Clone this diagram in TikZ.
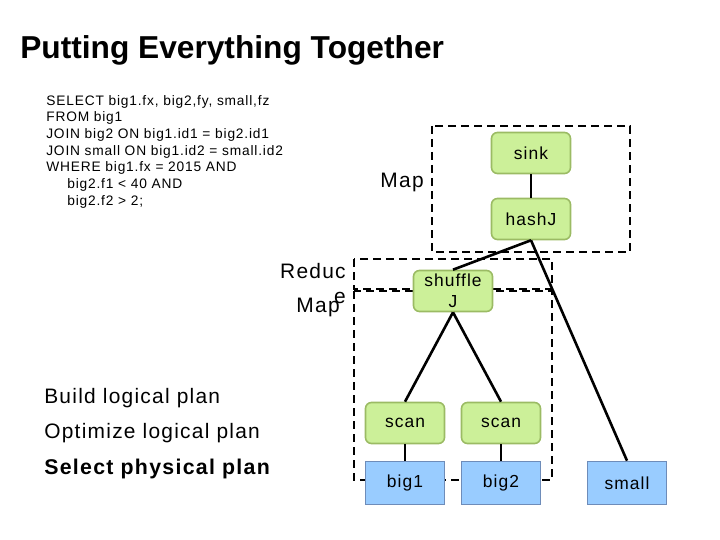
\documentclass[tikz,border=0pt]{standalone}
\usepackage{fontspec}
\setmainfont{Liberation Sans}
\newfontfamily\wide[LetterSpace=6]{Liberation Sans}
\usepackage{tikz}
\usetikzlibrary{arrows}

\definecolor{opfill}{RGB}{204,240,153}
\definecolor{opline}{RGB}{155,187,100}
\definecolor{tabfill}{RGB}{153,204,255}
\definecolor{tabline}{RGB}{110,140,185}

\begin{document}
\begin{tikzpicture}[x=1bp, y=-1bp, semithick,
		op/.style={draw=opline, fill=opfill, line width=1.6bp, rounded corners=6bp,
			minimum width=79bp, minimum height=41bp, inner sep=0bp, align=center,
			font=\wide\fontsize{17.5}{21}\selectfont},
		tab/.style={draw=tabline, fill=tabfill, line width=1.6bp,
			minimum width=79bp, minimum height=43bp, inner sep=1bp,
			font=\wide\fontsize{17.5}{21}\selectfont},
		stage/.style={draw, line width=2.6bp, dash pattern=on 8bp off 5bp},
		tree/.style={line width=2.6bp},
		lbl/.style={inner sep=0pt, font=\wide\fontsize{21}{21}\selectfont}]
		\useasboundingbox (0, 0) rectangle (720, 540);

		% headline and query
		\node[anchor=west, inner sep=0pt, font=\bfseries\fontsize{31.8}{33}\selectfont] (title) at (20, 50) {Putting Everything Together};
		\node[anchor=north west, inner sep=0pt, align=left, font=\wide\fontsize{13.8}{16.7}\selectfont] (query) at (46, 95) {SELECT big1.fx, big2,fy, small,fz\\
			FROM big1\\
			JOIN big2 ON big1.id1 = big2.id1\\
			JOIN small ON big1.id2 = small.id2\\
			WHERE big1.fx = 2015 AND\\
			\hspace*{21bp}big2.f1 < 40 AND\\
			\hspace*{21bp}big2.f2 > 2;};

		% steps
		\node[lbl, anchor=west] (build) at (44, 398) {Build logical plan};
		\node[lbl, anchor=west] (optimize) at (44, 433) {Optimize logical plan};
		\node[lbl, anchor=west, font=\wide\bfseries\fontsize{21.4}{21}\selectfont] (select) at (44, 469) {Select physical plan};

		% stage boxes
		\draw[stage] (432, 126) rectangle (630, 252);
		\draw[stage] (354, 259) rectangle (552, 289);
		\draw[stage] (354, 291) -- (354, 480) -- (552, 480) -- (552, 291) -- cycle;
		\node[lbl, anchor=east] (mapA) at (424, 182) {Map};
		\node[lbl, anchor=east] (reduc) at (346, 271) {Reduc};
		\node[lbl, anchor=east] (mapB) at (340, 307) {Map};
		\node[lbl] (e) at (340, 298) {e};

		% operators
		\node[op] (sink) at (531, 153) {sink};
		\node[op] (hashJ) at (531, 219) {hashJ};
		\node[op] (shuffle) at (453, 291) {shuffle\\J};
		\node[op] (scan1) at (405, 423) {scan};
		\node[op] (scan2) at (501, 423) {scan};
		\node[tab] (big1) at (405, 483) {big1};
		\node[tab] (big2) at (501, 483) {big2};
		\node[tab] (small) at (627, 483) {small};

		\path[tree] (sink) edge (hashJ)
			(hashJ.south) edge (shuffle.north)
			(hashJ.south) edge (small.north)
			(shuffle.south) edge (scan1.north)
			(shuffle.south) edge (scan2.north)
			(scan1) edge (big1)
			(scan2) edge (big2);
	\end{tikzpicture}
\end{document}
